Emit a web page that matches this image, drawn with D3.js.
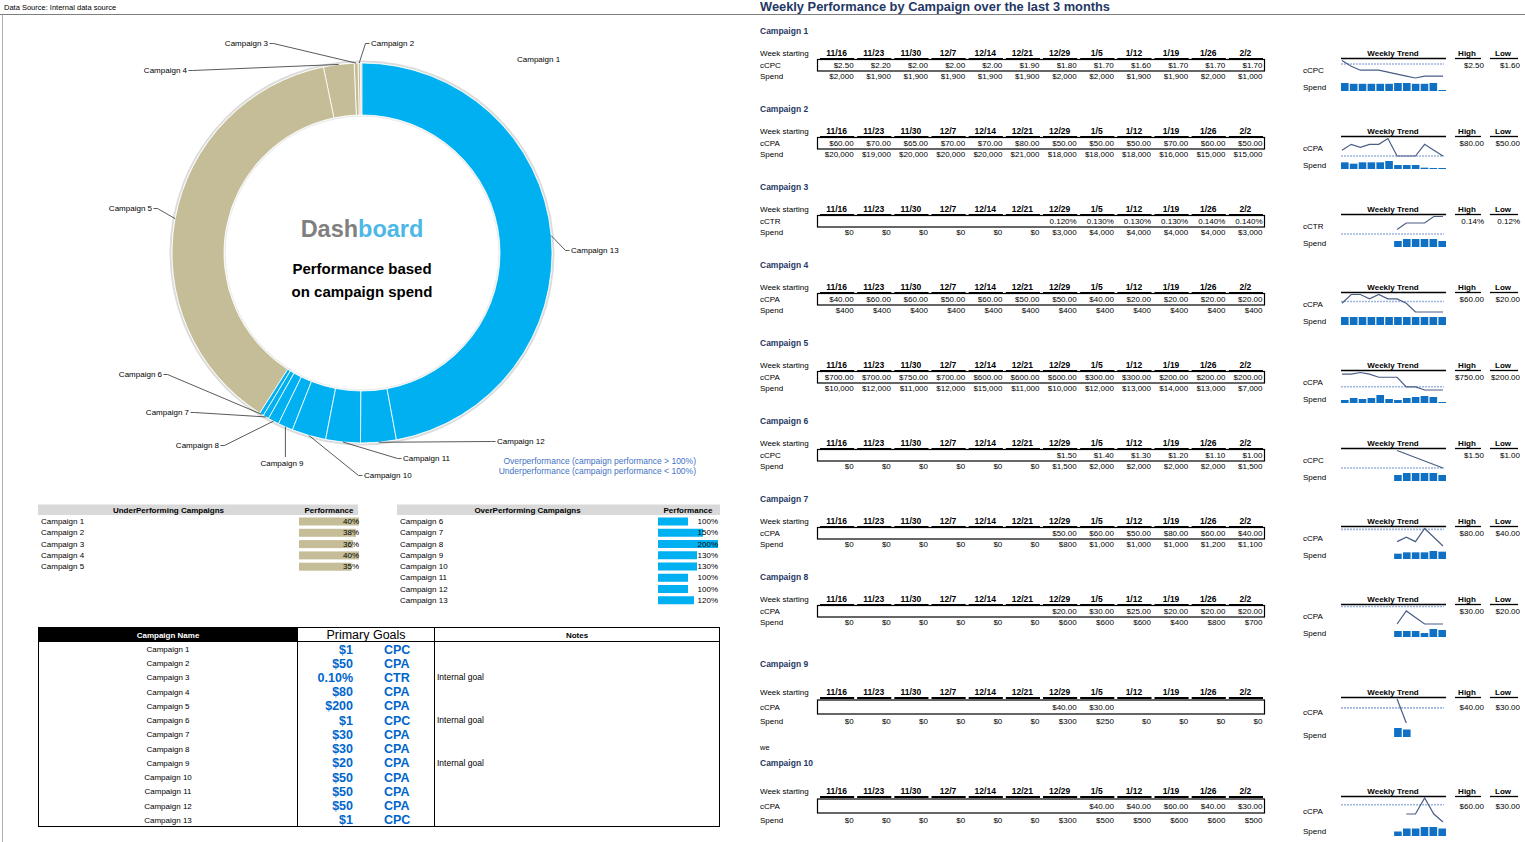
<!DOCTYPE html>
<html>
<head>
<meta charset="utf-8">
<script src="https://cdn.jsdelivr.net/npm/d3@7/dist/d3.min.js"></script>
<title>Dashboard</title>
<style>
    * { margin: 0; padding: 0; }
    body { background: #fff; }
    text { font-family: "Liberation Sans", Arial, sans-serif; }
</style>
</head>
<body>
<svg id="dash" width="1525" height="842"></svg>
<script>
// ---- data ----
var campaigns = ["Campaign 1", "Campaign 2", "Campaign 3", "Campaign 4", "Campaign 5", "Campaign 6", "Campaign 7",
    "Campaign 8", "Campaign 9", "Campaign 10", "Campaign 11", "Campaign 12", "Campaign 13"];
// share of spend in the donut
var donutShare = [0.14, 0.19, 0.33, 2.6, 37.7, 0.36, 0.5, 0.94, 1.28, 2.9, 2.94, 3.03, 47.1];

var underNames = ["Campaign 1", "Campaign 2", "Campaign 3", "Campaign 4", "Campaign 5"];
var underPerf = [40, 38, 36, 40, 35];
var overNames = ["Campaign 6", "Campaign 7", "Campaign 8", "Campaign 9", "Campaign 10", "Campaign 11", "Campaign 12", "Campaign 13"];
var overPerf = [100, 150, 200, 130, 130, 100, 100, 120];

var goalValues = ["$1", "$50", "0.10%", "$80", "$200", "$1", "$30", "$30", "$20", "$50", "$50", "$50", "$1"];
var goalTypes = ["CPC", "CPA", "CTR", "CPA", "CPA", "CPC", "CPA", "CPA", "CPA", "CPA", "CPA", "CPA", "CPC"];
var goalNotes = ["", "", "Internal goal", "", "", "Internal goal", "", "", "Internal goal", "", "", "", ""];

var weeks = ["11/16", "11/23", "11/30", "12/7", "12/14", "12/21", "12/29", "1/5", "1/12", "1/19", "1/26", "2/2"];
var trendMetric = ["cCPC", "cCPA", "cCTR", "cCPA", "cCPA", "cCPC", "cCPA", "cCPA", "cCPA", "cCPA"];

var c1Metric = [2.50, 2.20, 2.00, 2.00, 2.00, 1.90, 1.80, 1.70, 1.60, 1.70, 1.70, 1.70];
var c1Spend = [2000, 1900, 1900, 1900, 1900, 1900, 2000, 2000, 1900, 1900, 2000, 1000];
var c2Metric = [60, 70, 65, 70, 70, 80, 50, 50, 50, 70, 60, 50];
var c2Spend = [20000, 19000, 20000, 20000, 20000, 21000, 18000, 18000, 18000, 16000, 15000, 15000];
var c3Metric = [null, null, null, null, null, null, 0.120, 0.130, 0.130, 0.130, 0.140, 0.140];
var c3Spend = [0, 0, 0, 0, 0, 0, 3000, 4000, 4000, 4000, 4000, 3000];
var c4Metric = [40, 60, 60, 50, 60, 50, 50, 40, 20, 20, 20, 20];
var c4Spend = [400, 400, 400, 400, 400, 400, 400, 400, 400, 400, 400, 400];
var c5Metric = [700, 700, 750, 700, 600, 600, 600, 300, 300, 200, 200, 200];
var c5Spend = [10000, 12000, 11000, 12000, 15000, 11000, 10000, 12000, 13000, 14000, 13000, 7000];
var c6Metric = [null, null, null, null, null, null, 1.50, 1.40, 1.30, 1.20, 1.10, 1.00];
var c6Spend = [0, 0, 0, 0, 0, 0, 1500, 2000, 2000, 2000, 2000, 1500];
var c7Metric = [null, null, null, null, null, null, 50, 60, 50, 80, 60, 40];
var c7Spend = [0, 0, 0, 0, 0, 0, 800, 1000, 1000, 1000, 1200, 1100];
var c8Metric = [null, null, null, null, null, null, 20, 30, 25, 20, 20, 20];
var c8Spend = [0, 0, 0, 0, 0, 0, 600, 600, 600, 400, 800, 700];
var c9Metric = [null, null, null, null, null, null, 40, 30, null, null, null, null];
var c9Spend = [0, 0, 0, 0, 0, 0, 300, 250, 0, 0, 0, 0];
var c10Metric = [null, null, null, null, null, null, null, 40, 40, 60, 40, 30];
var c10Spend = [0, 0, 0, 0, 0, 0, 300, 500, 500, 600, 600, 500];
// dashed reference level drawn in each sparkline
var trendRef = [2.32, 50, 0.113, 44, 300, 1.0, 78, 33.4, 36.3, 51.5];

var metricSets = [c1Metric, c2Metric, c3Metric, c4Metric, c5Metric, c6Metric, c7Metric, c8Metric, c9Metric, c10Metric];
var spendSets = [c1Spend, c2Spend, c3Spend, c4Spend, c5Spend, c6Spend, c7Spend, c8Spend, c9Spend, c10Spend];

// ---- layout ----
var blockTop = [31, 109, 187, 265, 343, 421, 499, 577, 664, 763];
var beige = "#c4bd97", blue = "#00b0f0", navy = "#1f3864";
var fs = 8;

var svg = d3.select("#dash");

svg.append("text").attr("x", 4).attr("y", 10).attr("font-size", 7.5).text("Data Source: Internal data source");
svg.append("line").attr("x1", 0).attr("x2", 1525).attr("y1", 14.5).attr("y2", 14.5)
    .attr("stroke", "#7f7f7f").attr("stroke-width", 1);
svg.append("line").attr("x1", 2.5).attr("x2", 2.5).attr("y1", 15).attr("y2", 842)
    .attr("stroke", "#b0b0b0").attr("stroke-width", 1);

svg.append("text").attr("x", 760).attr("y", 11).attr("font-size", 12.5).attr("font-weight", "bold")
    .attr("fill", navy).attr("textLength", 350).attr("lengthAdjust", "spacingAndGlyphs")
    .text("Weekly Performance by Campaign over the last 3 months");

// ---- donut ----
var cx = 362, cy = 253, R = 190, r0 = 138;
var pie = d3.pie().sort(null).value(function (d) { return d; })
    .startAngle(2 * Math.PI).endAngle(0);
var slices = pie(donutShare);
var arc = d3.arc().innerRadius(r0).outerRadius(R);
var edgeArc = d3.arc().innerRadius(R).outerRadius(R);

var dg = svg.append("g").attr("transform", "translate(" + cx + "," + cy + ")");
dg.append("circle").attr("r", R + 1.5).attr("fill", "none").attr("stroke", "#dcdcdc").attr("stroke-width", 2);
dg.append("circle").attr("r", r0 - 1).attr("fill", "none").attr("stroke", "#ececec").attr("stroke-width", 1.5);
dg.selectAll(".slice")
    .data(slices)
    .enter()
    .append("path")
    .attr("d", arc)
    .attr("fill", function (d, i) { return i < 5 ? beige : blue; })
    .attr("stroke", "#fff")
    .attr("stroke-width", 0.8);

// label placement: text x, baseline y, anchor
var labelSpots = [
    [517, 62, "start"], [371, 46, "start"], [268, 46, "end"], [187, 73, "end"], [152, 211, "end"],
    [162, 377, "end"], [189, 415, "end"], [219, 448, "end"], [282, 466, "middle"], [364, 478, "start"],
    [403, 461, "start"], [497, 444, "start"], [571, 253, "start"]
];

slices.forEach(function (s, i) {
    var spot = labelSpots[i];
    svg.append("text").attr("x", spot[0]).attr("y", spot[1]).attr("font-size", 8)
        .attr("text-anchor", spot[2]).text(campaigns[i]);
    if (i === 0) return;
    var p = edgeArc.centroid(s);
    var start = [cx + p[0], cy + p[1]];
    var pts;
    if (spot[2] === "middle") {
        pts = [start, [start[0], spot[1] - 9]];
    } else {
        var ex = spot[2] === "end" ? spot[0] + 1.5 : spot[0] - 1.5;
        var ey = spot[1] - 2.5;
        var elbow = [spot[2] === "end" ? ex + 4 : ex - 4, ey];
        pts = [start, elbow, [ex, ey]];
    }
    svg.append("path").attr("d", d3.line()(pts)).attr("fill", "none")
        .attr("stroke", "#303030").attr("stroke-width", 0.8);
});

var ct = svg.append("text").attr("x", cx).attr("y", 237).attr("text-anchor", "middle")
    .attr("font-family", "'Open Sans', sans-serif").attr("font-size", 23.5).attr("font-weight", "bold");
ct.append("tspan").attr("fill", "#7f7f7f").text("Dash");
ct.append("tspan").attr("fill", "#4db8e6").text("board");
svg.append("text").attr("x", cx).attr("y", 274).attr("text-anchor", "middle")
    .attr("font-family", "'Open Sans', sans-serif").attr("font-size", 15).attr("font-weight", "bold")
    .text("Performance based");
svg.append("text").attr("x", cx).attr("y", 297).attr("text-anchor", "middle")
    .attr("font-family", "'Open Sans', sans-serif").attr("font-size", 15).attr("font-weight", "bold")
    .text("on campaign spend");

svg.append("text").attr("x", 696).attr("y", 464).attr("text-anchor", "end").attr("font-size", 8.5)
    .attr("fill", "#4472c4").text("Overperformance (campaign performance > 100%)");
svg.append("text").attr("x", 696).attr("y", 474).attr("text-anchor", "end").attr("font-size", 8.5)
    .attr("fill", "#4472c4").text("Underperformance (campaign performance < 100%)");

// ---- performance tables ----
function perfTable(x0, x1, barX, title, names, values, color, maxVal, rowsBottom) {
    svg.append("rect").attr("x", x0).attr("y", 504.5).attr("width", x1 - x0).attr("height", 10.5).attr("fill", "#d9d9d9");
    svg.append("text").attr("x", (x0 + barX - 10) / 2 + 5).attr("y", 512.5).attr("text-anchor", "middle")
        .attr("font-size", fs).attr("font-weight", "bold").text(title);
    svg.append("text").attr("x", barX + 30).attr("y", 512.5).attr("text-anchor", "middle")
        .attr("font-size", fs).attr("font-weight", "bold").text("Performance");
    var y = d3.scaleBand().domain(names).range([516, rowsBottom]);
    var w = d3.scaleLinear().domain([0, maxVal]).range([0, 60]);
    var rows = svg.selectAll(null).data(names).enter().append("g");
    rows.append("text").attr("x", x0 + 3).attr("y", function (d) { return y(d) + 8; })
        .attr("font-size", fs).text(function (d) { return d; });
    rows.append("rect").attr("x", barX).attr("y", function (d) { return y(d) + 1.5; })
        .attr("height", 8).attr("width", function (d, i) { return w(values[i]); }).attr("fill", color);
    rows.append("text").attr("x", barX + 60).attr("y", function (d) { return y(d) + 8; })
        .attr("text-anchor", "end").attr("font-size", fs).text(function (d, i) { return values[i] + "%"; });
}
perfTable(38, 358, 299, "UnderPerforming Campaigns", underNames, underPerf, beige, 40, 572.5);
perfTable(397, 720, 658, "OverPerforming Campaigns", overNames, overPerf, blue, 200, 606);

// ---- goals table ----
var gy = d3.scaleBand().domain(campaigns).range([642, 827]);
svg.append("rect").attr("x", 38).attr("y", 627).attr("width", 259).attr("height", 14).attr("fill", "#000");
svg.append("rect").attr("x", 38.5).attr("y", 627.5).attr("width", 681).attr("height", 199)
    .attr("fill", "none").attr("stroke", "#000").attr("stroke-width", 1);
svg.append("line").attr("x1", 38).attr("x2", 720).attr("y1", 641.5).attr("y2", 641.5).attr("stroke", "#000");
[297.5, 434.5].forEach(function (x) {
    svg.append("line").attr("x1", x).attr("x2", x).attr("y1", 627).attr("y2", 827).attr("stroke", "#000");
});
svg.append("text").attr("x", 168).attr("y", 637.5).attr("text-anchor", "middle").attr("fill", "#fff")
    .attr("font-size", fs).attr("font-weight", "bold").text("Campaign Name");
svg.append("text").attr("x", 366).attr("y", 639).attr("text-anchor", "middle")
    .attr("font-size", 12.5).text("Primary Goals");
svg.append("text").attr("x", 577).attr("y", 638).attr("text-anchor", "middle")
    .attr("font-size", fs).attr("font-weight", "bold").text("Notes");
var grow = svg.selectAll(null).data(campaigns).enter().append("g");
grow.append("text").attr("x", 168).attr("y", function (d) { return gy(d) + 10; })
    .attr("text-anchor", "middle").attr("font-size", fs).text(function (d) { return d; });
grow.append("text").attr("x", 353).attr("y", function (d) { return gy(d) + 11.5; })
    .attr("text-anchor", "end").attr("font-size", 12.5).attr("font-weight", "bold").attr("fill", "#0066cc")
    .text(function (d, i) { return goalValues[i]; });
grow.append("text").attr("x", 384).attr("y", function (d) { return gy(d) + 11.5; })
    .attr("font-size", 12.5).attr("font-weight", "bold").attr("fill", "#0066cc")
    .text(function (d, i) { return goalTypes[i]; });
grow.append("text").attr("x", 437).attr("y", function (d) { return gy(d) + 10; })
    .attr("font-size", 8.5).text(function (d, i) { return goalNotes[i]; });

// ---- weekly performance blocks ----
var wx = d3.scaleBand().domain(weeks).range([818, 1264]);
var sx = d3.scalePoint().domain(weeks).range([1342, 1443]);
var bx = d3.scaleBand().domain(weeks).range([1341, 1446]).paddingInner(0.14);
var fmtSpend = d3.format("$,.0f");
function fmtMetric(type, v) { return type === "cCTR" ? d3.format(".3f")(v) + "%" : "$" + d3.format(".2f")(v); }
function fmtHiLo(type, v) { return type === "cCTR" ? d3.format(".2f")(v) + "%" : "$" + d3.format(".2f")(v); }

svg.append("text").attr("x", 760).attr("y", 750).attr("font-size", 7.5).text("we");

blockTop.forEach(function (top, i) {
    var tall = i >= 8;
    var hdr = top + (tall ? 28 : 22);
    var mY = hdr + (tall ? 15 : 12);
    var sY = hdr + (tall ? 29 : 23);
    var type = trendMetric[i];
    var vals = metricSets[i], spend = spendSets[i];
    var g = svg.append("g");

    g.append("text").attr("x", 760).attr("y", top + 3).attr("font-size", 8.5).attr("font-weight", "bold")
        .attr("fill", navy).text("Campaign " + (i + 1));
    g.append("text").attr("x", 760).attr("y", hdr + 3).attr("font-size", fs).text("Week starting");
    g.append("text").attr("x", 760).attr("y", mY + 3).attr("font-size", fs).text(type);
    g.append("text").attr("x", 760).attr("y", sY + 3).attr("font-size", fs).text("Spend");

    g.selectAll(".wk").data(weeks).enter().append("text")
        .attr("x", function (d) { return wx(d) + wx.bandwidth() / 2; }).attr("y", hdr + 3)
        .attr("text-anchor", "middle").attr("font-size", 8.5).attr("font-weight", "bold")
        .text(function (d) { return d; });
    g.selectAll(".ul").data(weeks).enter().append("line")
        .attr("x1", function (d) { return wx(d) + 2; }).attr("x2", function (d) { return wx(d) + wx.bandwidth() - 1; })
        .attr("y1", hdr + 6).attr("y2", hdr + 6).attr("stroke", "#000").attr("stroke-width", 2);
    g.append("rect").attr("x", 817.5).attr("y", mY - (tall ? 7 : 5.5)).attr("width", 447)
        .attr("height", tall ? 14 : 11.5).attr("fill", "none").attr("stroke", "#000").attr("stroke-width", 1.2);

    g.selectAll(".mv").data(weeks).enter().append("text")
        .attr("x", function (d) { return wx(d) + wx.bandwidth() - 1.5; }).attr("y", mY + 3)
        .attr("text-anchor", "end").attr("font-size", fs)
        .text(function (d, j) { return vals[j] == null ? "" : fmtMetric(type, vals[j]); });
    g.selectAll(".sv").data(weeks).enter().append("text")
        .attr("x", function (d) { return wx(d) + wx.bandwidth() - 1.5; }).attr("y", sY + 3)
        .attr("text-anchor", "end").attr("font-size", fs)
        .text(function (d, j) { return fmtSpend(spend[j]); });

    // trend headers
    g.append("text").attr("x", 1393).attr("y", hdr + 3).attr("text-anchor", "middle").attr("font-size", fs)
        .attr("font-weight", "bold").text("Weekly Trend");
    g.append("text").attr("x", 1467).attr("y", hdr + 3).attr("text-anchor", "middle").attr("font-size", fs)
        .attr("font-weight", "bold").text("High");
    g.append("text").attr("x", 1503).attr("y", hdr + 3).attr("text-anchor", "middle").attr("font-size", fs)
        .attr("font-weight", "bold").text("Low");
    [[1341, 1446], [1455, 1481], [1490, 1518]].forEach(function (s) {
        g.append("line").attr("x1", s[0]).attr("x2", s[1]).attr("y1", hdr + 5.5).attr("y2", hdr + 5.5)
            .attr("stroke", "#000").attr("stroke-width", 1.3);
    });
    g.append("text").attr("x", 1303).attr("y", hdr + (tall ? 20 : 17) + 3).attr("font-size", fs).text(type);
    g.append("text").attr("x", 1303).attr("y", hdr + (tall ? (i === 8 ? 43 : 40) : 34) + 3).attr("font-size", fs).text("Spend");

    var present = vals.filter(function (v) { return v != null; });
    var hi = d3.max(present), lo = d3.min(present);
    g.append("text").attr("x", 1484).attr("y", mY + 3).attr("text-anchor", "end").attr("font-size", fs).text(fmtHiLo(type, hi));
    g.append("text").attr("x", 1520).attr("y", mY + 3).attr("text-anchor", "end").attr("font-size", fs).text(fmtHiLo(type, lo));

    // sparkline
    var ly = d3.scaleLinear().domain(d3.extent(present.concat([trendRef[i]])))
        .range([hdr + (tall ? 31 : 25), hdr + (tall ? 7 : 7.5)]);
    g.append("line").attr("x1", 1341).attr("x2", 1444)
        .attr("y1", ly(trendRef[i])).attr("y2", ly(trendRef[i]))
        .attr("stroke", "#9db5dd").attr("stroke-width", 1.6).attr("stroke-dasharray", "2,1");
    var line = d3.line()
        .defined(function (d) { return d != null; })
        .x(function (d, j) { return sx(weeks[j]); })
        .y(function (d) { return ly(d); });
    g.append("path").datum(vals).attr("d", line).attr("fill", "none")
        .attr("stroke", "#4a5d85").attr("stroke-width", 1.2);

    var sMin = d3.min(spend), sMax = d3.max(spend);
    var barBot = hdr + (tall ? 45 : 38), barTop = hdr + (tall ? 36 : 30);
    var by = d3.scaleLinear().domain([sMin === sMax ? 0 : sMin, sMax]).range([barBot, barTop]);
    g.selectAll(".sb").data(weeks).enter().append("rect")
        .attr("x", function (d) { return bx(d); }).attr("width", bx.bandwidth())
        .attr("y", function (d, j) { return spend[j] > 0 ? Math.min(by(spend[j]), barBot - 1) : barBot; })
        .attr("height", function (d, j) { return spend[j] > 0 ? Math.max(barBot - by(spend[j]), 1) : 0; })
        .attr("fill", "#1070c4");
});
</script>
</body>
</html>
